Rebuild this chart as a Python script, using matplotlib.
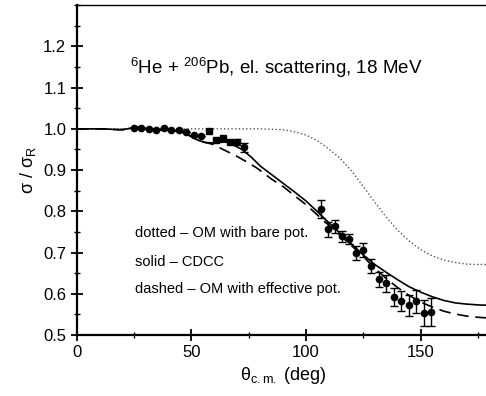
import numpy as np
import matplotlib.pyplot as plt
from matplotlib.ticker import MultipleLocator

plt.rcParams['font.family'] = ['Liberation Sans', 'DejaVu Sans']
plt.rcParams['mathtext.fontset'] = 'custom'
plt.rcParams['mathtext.rm'] = 'Liberation Sans'
plt.rcParams['mathtext.it'] = 'Liberation Sans:italic'

# Données expérimentales (cercles)
theta_c = [25.0, 28.2, 31.4, 34.7, 37.9, 41.3, 44.6, 47.8, 51.0, 54.2,
           70.1, 73.1, 106.7, 109.6, 112.8, 115.7, 118.9, 122.0, 125.0,
           128.2, 131.7, 135.0, 138.2, 141.6, 144.8, 148.1, 151.3, 154.5]
ratio_c = [1.002, 1.001, 0.999, 0.998, 1.002, 0.996, 0.998, 0.992, 0.985, 0.983,
           0.968, 0.955, 0.806, 0.756, 0.764, 0.739, 0.733, 0.699, 0.705,
           0.667, 0.635, 0.625, 0.592, 0.582, 0.572, 0.582, 0.553, 0.556]
err_c = [0, 0, 0, 0, 0, 0, 0, 0, 0, 0,
         0.008, 0.010, 0.021, 0.018, 0.016, 0.013, 0.013, 0.016, 0.017,
         0.017, 0.019, 0.021, 0.021, 0.024, 0.025, 0.028, 0.032, 0.034]

# Données expérimentales (carrés)
theta_s = [57.6, 60.8, 64.0, 67.0]
ratio_s = [0.994, 0.972, 0.977, 0.968]

# Courbes théoriques
th_dot = [0, 10, 20, 30, 40, 50, 60, 70, 75, 80, 85, 90, 95, 100, 105, 110,
          115, 120, 125, 130, 135, 140, 145, 150, 155, 160, 165, 170, 175, 180]
y_dot = [1.0, 1.0, 1.0, 1.0, 1.0, 1.0, 1.0, 1.0, 1.0, 1.0, 0.999, 0.998, 0.993,
         0.985, 0.971, 0.951, 0.928, 0.897, 0.860, 0.822, 0.786, 0.754, 0.728,
         0.707, 0.692, 0.682, 0.676, 0.672, 0.671, 0.671]

th_sol = [0, 5, 10, 15, 18, 20, 22, 25, 28, 32, 36, 40, 44, 47, 50, 53, 56, 59,
          62, 65, 68, 72, 76, 80, 85, 90, 95, 100, 105, 110, 115, 120, 125, 130,
          135, 140, 145, 150, 155, 160, 165, 170, 175, 180]
y_sol = [1.0, 1.0, 1.0, 0.999, 0.998, 0.998, 1.0, 1.004, 1.003, 1.0, 0.998,
         0.997, 0.995, 0.99, 0.981, 0.972, 0.967, 0.966, 0.967, 0.968, 0.962,
         0.950, 0.932, 0.910, 0.889, 0.868, 0.847, 0.825, 0.799, 0.772, 0.746,
         0.720, 0.694, 0.671, 0.652, 0.634, 0.617, 0.604, 0.593, 0.584, 0.578,
         0.575, 0.573, 0.572]

th_dash = [0, 5, 10, 15, 18, 20, 22, 25, 28, 32, 36, 40, 44, 47, 50, 53, 56, 59,
           62, 66, 70, 75, 78, 80, 85, 90, 95, 100, 105, 110, 115, 120, 125, 130,
           135, 140, 145, 150, 155, 160, 165, 170, 175, 180]
y_dash = [1.0, 1.0, 1.0, 0.999, 0.998, 0.998, 1.0, 1.004, 1.003, 1.0, 0.998,
          0.997, 0.995, 0.99, 0.981, 0.972, 0.967, 0.963, 0.955, 0.944, 0.933,
          0.917, 0.907, 0.899, 0.878, 0.860, 0.838, 0.816, 0.791, 0.766, 0.741,
          0.716, 0.690, 0.662, 0.637, 0.615, 0.596, 0.580, 0.568, 0.558, 0.551,
          0.546, 0.543, 0.541]

fig = plt.figure(figsize=(4.86, 3.96), dpi=100)
ax = fig.add_axes([0.158, 0.154, 0.849, 0.833])

ax.plot(th_dot, y_dot, linestyle=':', color='#555555', linewidth=1.0)
ax.plot(th_sol, y_sol, linestyle='-', color='black', linewidth=1.2)
ax.plot(th_dash, y_dash, linestyle=(0, (7, 4)), color='black', linewidth=1.2)

ax.errorbar(theta_c, ratio_c, yerr=err_c, fmt='o', color='black', ms=4.5,
            capsize=3, elinewidth=1, capthick=1)
ax.plot(theta_s, ratio_s, 's', color='black', ms=4.5)

ax.set_xlim(0, 180)
ax.set_ylim(0.5, 1.3)
ax.xaxis.set_major_locator(MultipleLocator(50))
ax.xaxis.set_minor_locator(MultipleLocator(25))
ax.yaxis.set_major_locator(MultipleLocator(0.1))
ax.yaxis.set_minor_locator(MultipleLocator(0.05))
ax.set_yticks([0.5, 0.6, 0.7, 0.8, 0.9, 1.0, 1.1, 1.2])
ax.tick_params(which='major', direction='inout', length=8, width=1.3, labelsize=12)
ax.tick_params(which='minor', direction='inout', length=4, width=1.0)
ax.tick_params(top=False, right=False)

ax.spines['left'].set_linewidth(1.6)
ax.spines['bottom'].set_linewidth(1.6)
ax.spines['top'].set_linewidth(1.0)
ax.spines['right'].set_linewidth(1.0)

ax.set_xlabel(r"θ$_{\mathrm{c.m.}}$ (deg)", fontsize=13, labelpad=3)
ax.set_ylabel(r"σ / σ$_{\mathrm{R}}$", fontsize=13, labelpad=4)

ax.text(0.128, 0.81, r"$^{6}$He + $^{206}$Pb, el. scattering, 18 MeV",
        transform=ax.transAxes, fontsize=13.5, va='center')
ax.text(0.14, 0.31, "dotted – OM with bare pot.", transform=ax.transAxes,
        fontsize=10.5, va='center')
ax.text(0.14, 0.22, "solid – CDCC", transform=ax.transAxes,
        fontsize=10.5, va='center')
ax.text(0.14, 0.14, "dashed – OM with effective pot.", transform=ax.transAxes,
        fontsize=10.5, va='center')

plt.savefig('out.png', dpi=100)
